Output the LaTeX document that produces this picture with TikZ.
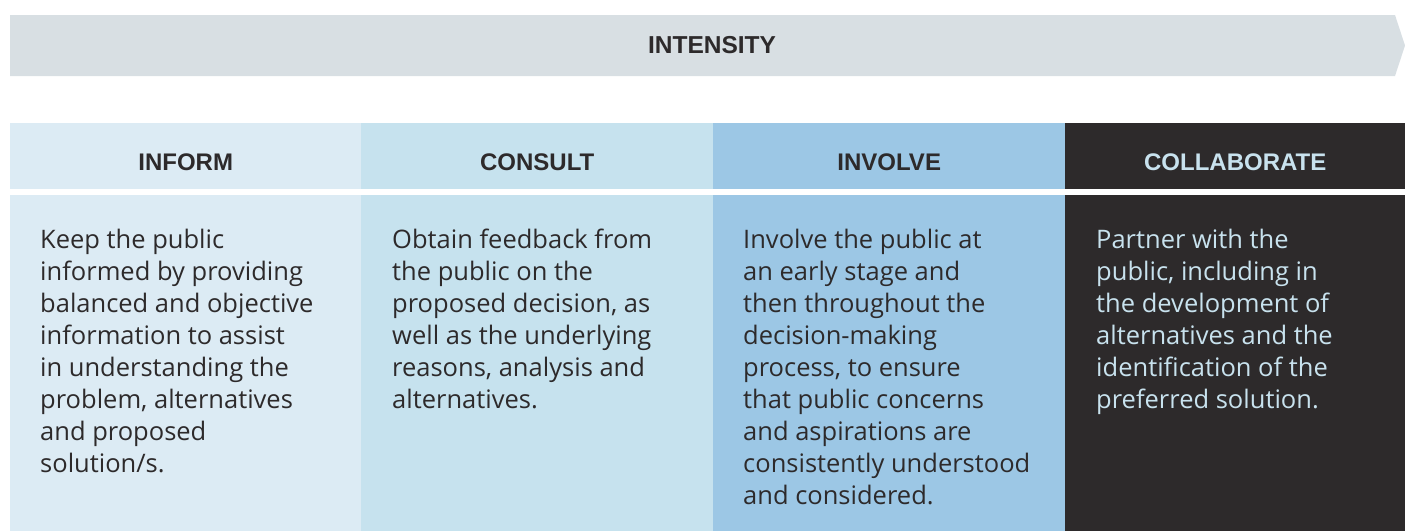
\documentclass[tikz,border=0pt]{standalone}
\usepackage{fontspec}
\setmainfont{Open Sans}
\newfontfamily\headfont{Liberation Sans}
\usetikzlibrary{positioning}
\definecolor{bannergray}{HTML}{D8DFE3}
\definecolor{informblue}{HTML}{DCEBF4}
\definecolor{consultblue}{HTML}{C6E2EE}
\definecolor{involveblue}{HTML}{9CC7E5}
\definecolor{collabdark}{HTML}{2D2A2B}
\definecolor{inkdark}{HTML}{2D2A2B}
\definecolor{inklight}{HTML}{C8E2EE}

\begin{document}
\begin{tikzpicture}[x=1pt, y=-1pt,
  headcell/.style={anchor=north west, minimum height=66pt, inner sep=0pt, text height=28pt, text depth=0pt, text=inkdark, font=\headfont\fontsize{24}{28}\selectfont\bfseries},
  bodycell/.style={anchor=north west, minimum height=336pt, inner sep=0pt},
  bodytext/.style={anchor=north west, inner sep=0pt, align=left, text=inkdark, font=\fontsize{25.5}{32}\selectfont}
]
  \useasboundingbox (0,0) rectangle (1405,531);

  % The intensity banner
  \fill[bannergray] (10,15) -- (1395,15) -- (1405,45.5) -- (1395,76) -- (10,76) -- cycle;
  \node[text=inkdark, inner sep=0pt, font=\headfont\fontsize{24.5}{28}\selectfont\bfseries] (intensity) at (712,45) {INTENSITY};

  % Column headers
  \node[headcell, fill=informblue, minimum width=351pt] (inform) at (10,123) {INFORM};
  \node[headcell, fill=consultblue, minimum width=352pt] (consult) at (361,123) {CONSULT};
  \node[headcell, fill=involveblue, minimum width=352pt] (involve) at (713,123) {INVOLVE};
  \node[headcell, fill=collabdark, minimum width=340pt, text=inklight] (collab) at (1065,123) {COLLABORATE};

  % Column bodies
  \node[bodycell, fill=informblue, minimum width=351pt] (informbody) at (10,195) {};
  \node[bodycell, fill=consultblue, minimum width=352pt] (consultbody) at (361,195) {};
  \node[bodycell, fill=involveblue, minimum width=352pt] (involvebody) at (713,195) {};
  \node[bodycell, fill=collabdark, minimum width=340pt] (collabbody) at (1065,195) {};

  % What each level means
  \node[bodytext] (informtxt) at (40,229) {Keep the public\\informed by providing\\balanced and objective\\information to assist\\in understanding the\\problem, alternatives\\and proposed\\solution/s.};
  \node[bodytext] (consulttxt) at (392,229) {Obtain feedback from\\the public on the\\proposed decision, as\\well as the underlying\\reasons, analysis and\\alternatives.};
  \node[bodytext] (involvetxt) at (743,229) {Involve the public at\\an early stage and\\then throughout the\\decision-making\\process, to ensure\\that public concerns\\and aspirations are\\consistently understood\\and considered.};
  \node[bodytext, text=inklight] (collabtxt) at (1096,229) {Partner with the\\public, including in\\the development of\\alternatives and the\\identification of the\\preferred solution.};
\end{tikzpicture}
\end{document}
